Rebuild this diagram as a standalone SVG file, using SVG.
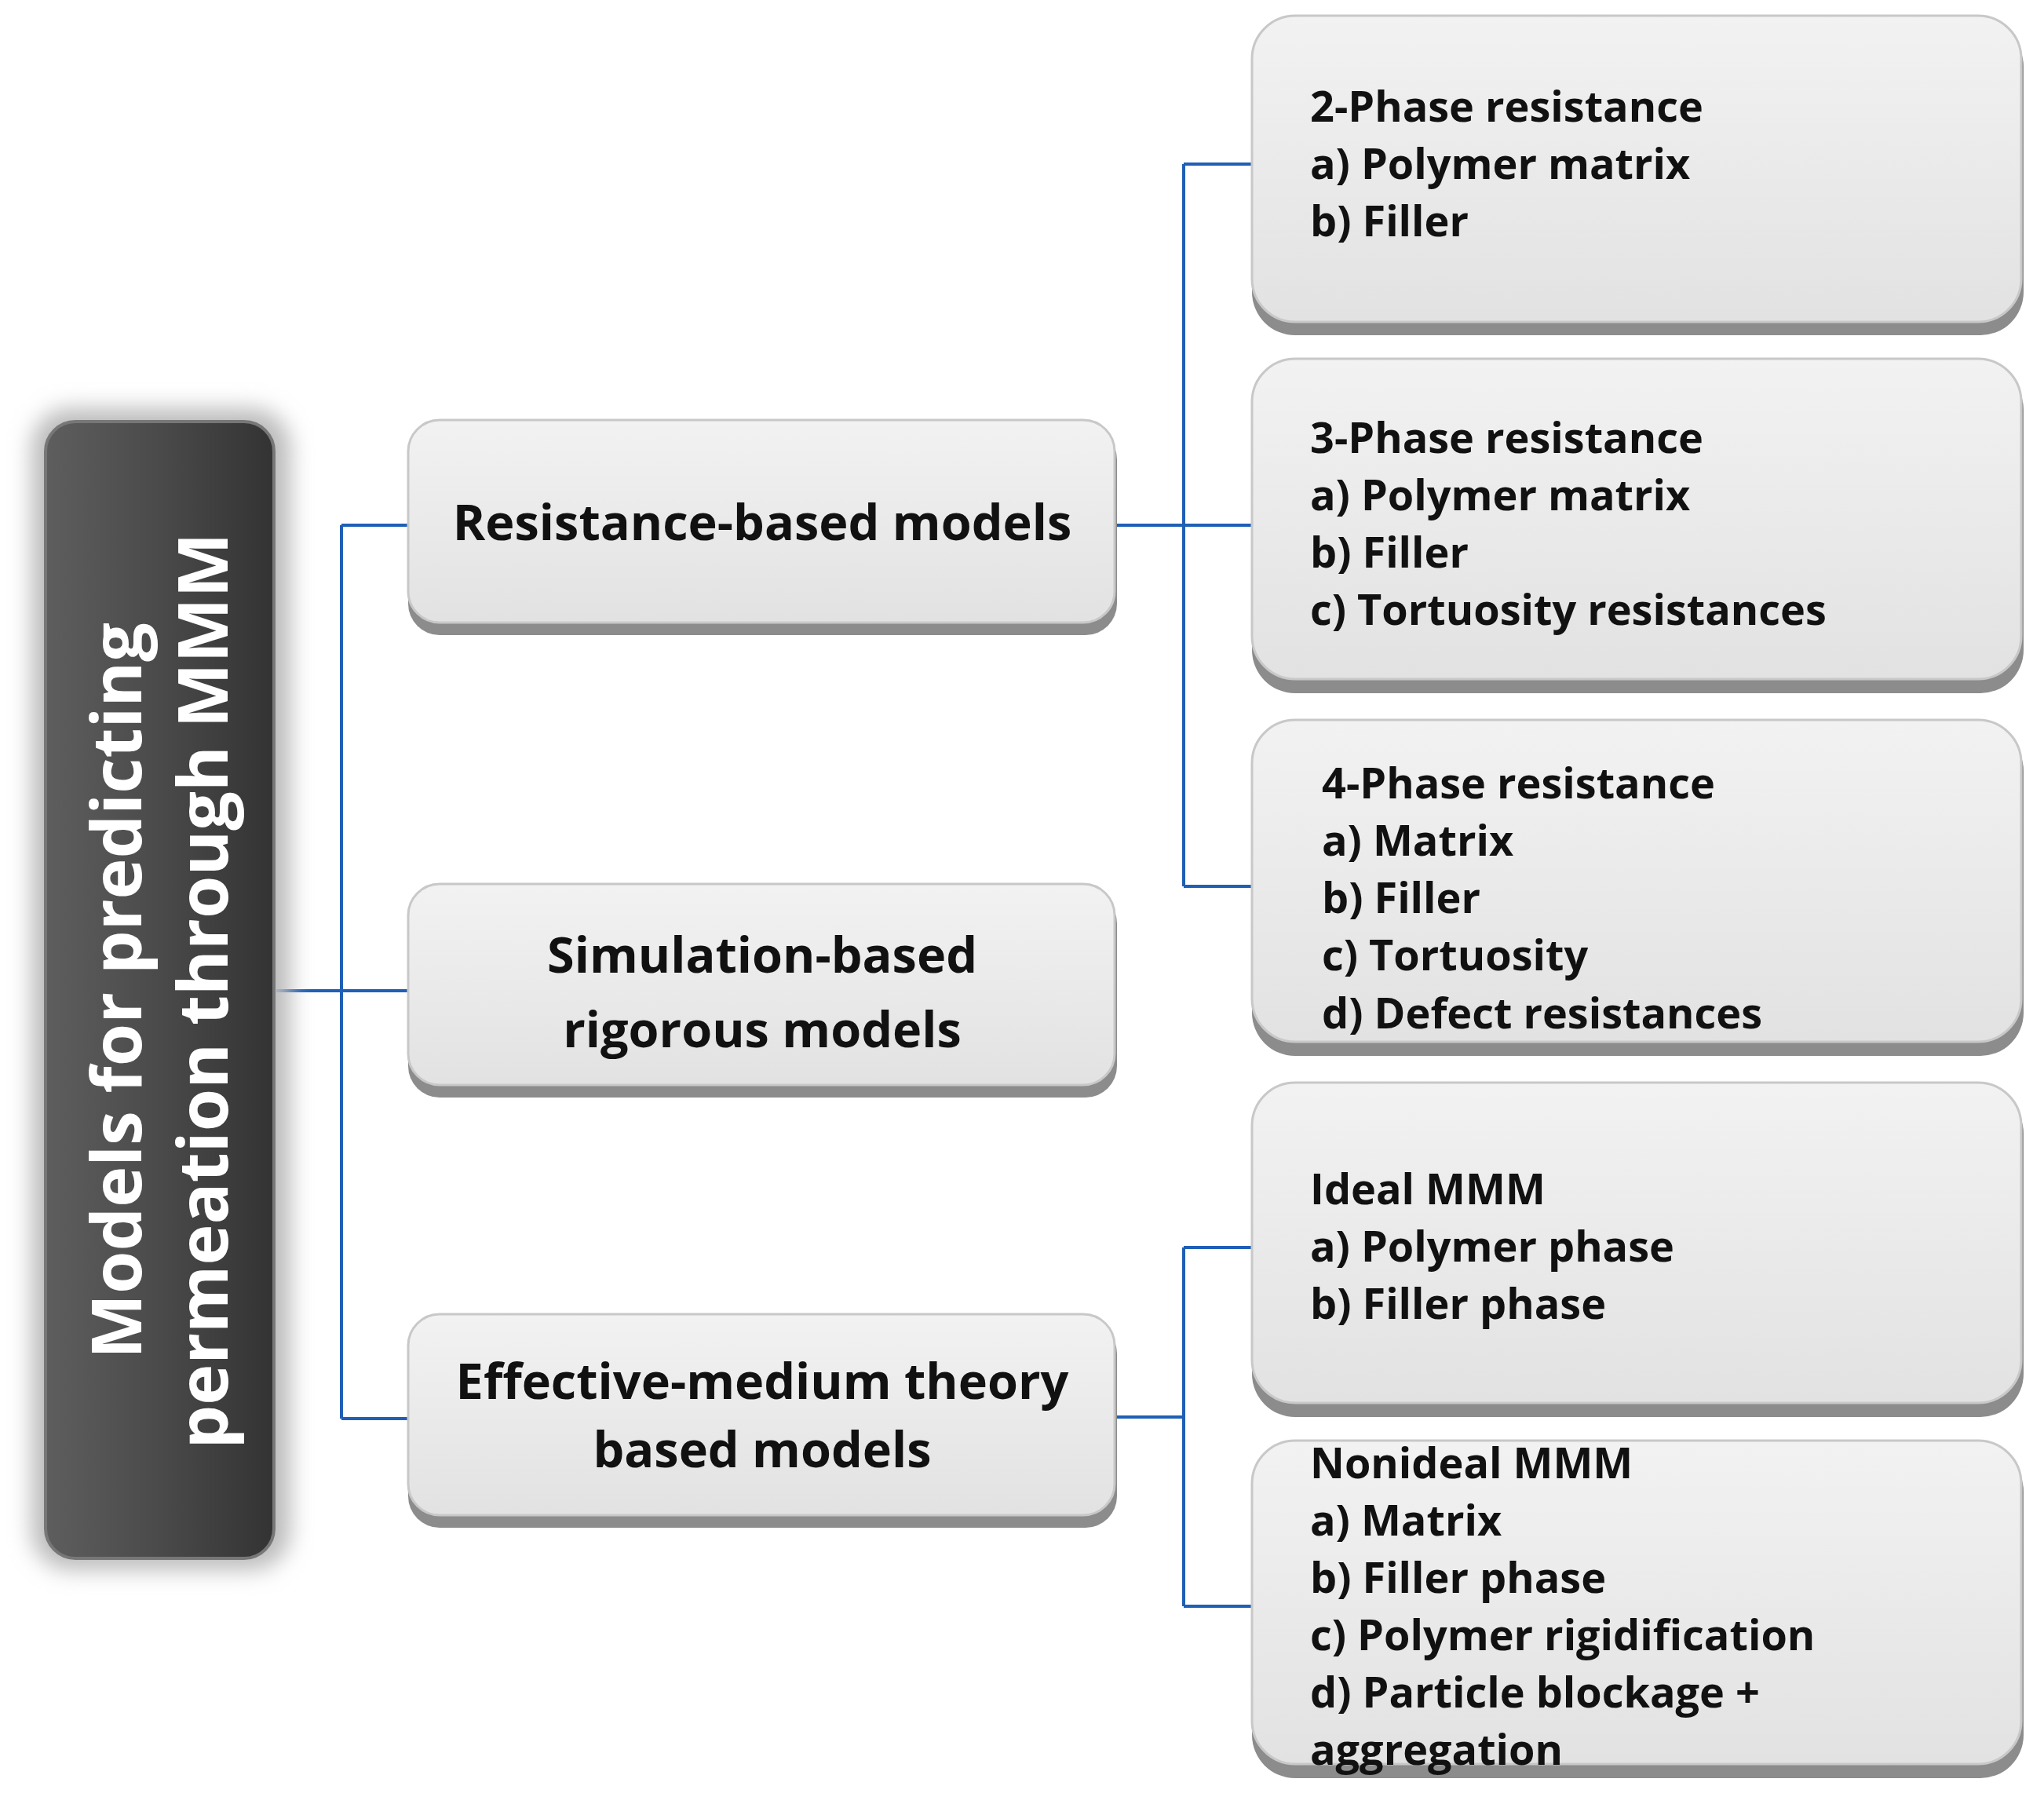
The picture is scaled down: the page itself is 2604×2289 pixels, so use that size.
<svg xmlns="http://www.w3.org/2000/svg" width="2604" height="2289" viewBox="0 0 2604 2289">
<defs>
<linearGradient id="lg" x1="0" y1="0" x2="0" y2="1"><stop offset="0" stop-color="#f2f2f2"/><stop offset="1" stop-color="#e2e2e2"/></linearGradient>
<linearGradient id="dg" x1="0" y1="0" x2="1" y2="0"><stop offset="0" stop-color="#5e5e5e"/><stop offset="0.5" stop-color="#4a4a4a"/><stop offset="1" stop-color="#333"/></linearGradient>
<filter id="glow" x="-30%" y="-10%" width="160%" height="120%"><feGaussianBlur stdDeviation="14"/></filter>
</defs>
<style>
.sh{fill:#8c8c8c}
.bx{fill:url(#lg);stroke:#c8c8c8;stroke-width:3}
.t{font-family:"Open Sans","Liberation Sans",sans-serif;font-weight:bold;font-size:54px;fill:#111}
.tc{font-family:"Open Sans","Liberation Sans",sans-serif;font-weight:bold;font-size:63px;fill:#111;text-anchor:middle}
.w{font-family:"Open Sans","Liberation Sans",sans-serif;font-weight:bold;font-size:88px;fill:#fff;text-anchor:middle}
.c{fill:none;stroke:#1f5fb5;stroke-width:4}
</style>
<rect width="2604" height="2289" fill="#fff"/>
<g id="connectors">
<path class="c" d="M352 1262H435M435 669V1807M435 669H520M435 1262H520M435 1807H520"/>
<path class="c" d="M1423 669H1508M1508 209V1129M1508 209H1595M1508 669H1595M1508 1129H1595"/>
<path class="c" d="M1423 1805H1508M1508 1589V2046M1508 1589H1595M1508 2046H1595"/>
</g>
<g id="root">
<rect x="40" y="520" width="330" height="1480" rx="50" fill="#bbb" filter="url(#glow)"/>
<rect x="58" y="537" width="291" height="1448" rx="38" fill="url(#dg)" stroke="#777" stroke-width="4"/>
<text class="w" transform="translate(180 1262) rotate(-90)">Models for predicting</text>
<text class="w" transform="translate(290 1262) rotate(-90)">permeation through MMM</text>
</g>
<g id="resistance">
<rect class="sh" x="520" y="545" width="903" height="264" rx="40"/>
<rect class="bx" x="520" y="535" width="900" height="258" rx="40"/>
<text class="tc" x="971" y="688">Resistance-based models</text>
</g>
<g id="simulation">
<rect class="sh" x="520" y="1136" width="903" height="262" rx="40"/>
<rect class="bx" x="520" y="1126" width="900" height="256" rx="40"/>
<text class="tc" x="971" y="1239">Simulation-based</text>
<text class="tc" x="971" y="1334">rigorous models</text>
</g>
<g id="effective">
<rect class="sh" x="520" y="1684" width="903" height="262" rx="40"/>
<rect class="bx" x="520" y="1674" width="900" height="256" rx="40"/>
<text class="tc" x="971" y="1782">Effective-medium theory</text>
<text class="tc" x="971" y="1869">based models</text>
</g>
<g id="phase2">
<rect class="sh" x="1595" y="30" width="983" height="397" rx="55"/>
<rect class="bx" x="1595" y="20" width="980" height="390" rx="55"/>
<text class="t" x="1669" y="155">2-Phase resistance</text>
<text class="t" x="1669" y="228">a) Polymer matrix</text>
<text class="t" x="1669" y="301">b) Filler</text>
</g>
<g id="phase3">
<rect class="sh" x="1595" y="467" width="983" height="416" rx="55"/>
<rect class="bx" x="1595" y="457" width="980" height="408" rx="55"/>
<text class="t" x="1669" y="577">3-Phase resistance</text>
<text class="t" x="1669" y="650">a) Polymer matrix</text>
<text class="t" x="1669" y="723">b) Filler</text>
<text class="t" x="1669" y="796">c) Tortuosity resistances</text>
</g>
<g id="phase4">
<rect class="sh" x="1595" y="927" width="983" height="418" rx="55"/>
<rect class="bx" x="1595" y="917" width="980" height="410" rx="55"/>
<text class="t" x="1684" y="1017">4-Phase resistance</text>
<text class="t" x="1684" y="1090">a) Matrix</text>
<text class="t" x="1684" y="1163">b) Filler</text>
<text class="t" x="1684" y="1236">c) Tortuosity</text>
<text class="t" x="1684" y="1310">d) Defect resistances</text>
</g>
<g id="ideal">
<rect class="sh" x="1595" y="1389" width="983" height="416" rx="55"/>
<rect class="bx" x="1595" y="1379" width="980" height="408" rx="55"/>
<text class="t" x="1669" y="1534">Ideal MMM</text>
<text class="t" x="1669" y="1607">a) Polymer phase</text>
<text class="t" x="1669" y="1680">b) Filler phase</text>
</g>
<g id="nonideal">
<rect class="sh" x="1595" y="1845" width="983" height="420" rx="55"/>
<rect class="bx" x="1595" y="1835" width="980" height="412" rx="55"/>
<text class="t" x="1669" y="1883">Nonideal MMM</text>
<text class="t" x="1669" y="1956">a) Matrix</text>
<text class="t" x="1669" y="2029">b) Filler phase</text>
<text class="t" x="1669" y="2102">c) Polymer rigidification</text>
<text class="t" x="1669" y="2175">d) Particle blockage +</text>
<text class="t" x="1669" y="2248">aggregation</text>
</g>
</svg>
